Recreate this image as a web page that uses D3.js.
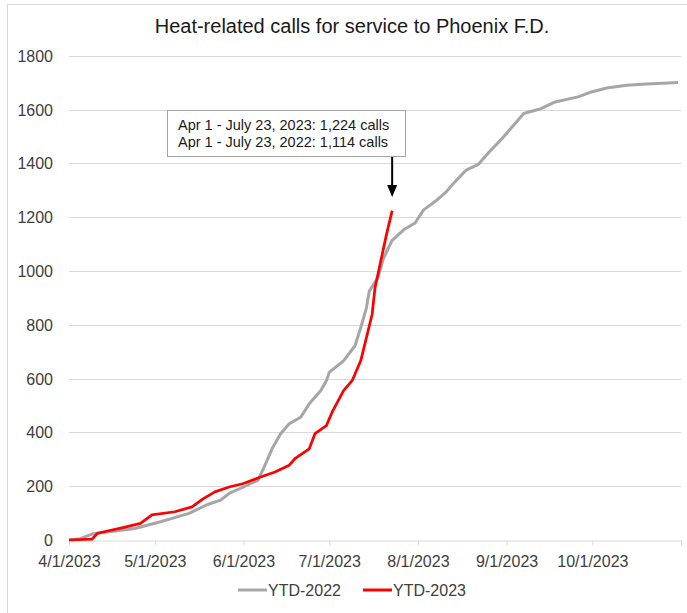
<!DOCTYPE html>
<html>
<head>
<meta charset="utf-8">
<script src="https://cdn.jsdelivr.net/npm/d3@7"></script>
<style>
  body { margin: 0; background: #fff; }
  text { font-family: "Liberation Sans", Arial, sans-serif; }
</style>
</head>
<body>
<svg id="chart" width="687" height="613"></svg>
<script>
// values
const dates2022 = ["4/1","4/5","4/9","4/15","4/24","5/3","5/13","5/19","5/24","5/27","6/1","6/6","6/8","6/11","6/14","6/17","6/21","6/24","6/28","6/30","7/1","7/6","7/10","7/12","7/14","7/15","7/18","7/20","7/23","7/27","7/31","8/3","8/7","8/11","8/14","8/18","8/22","8/26","8/30","9/3","9/7","9/13","9/18","9/26","9/30","10/6","10/13","10/20","10/31"];
const calls2022 = [0,5,22,31,43,68,99,130,148,173,197,222,265,339,395,432,456,506,555,592,623,666,722,789,863,925,974,1048,1114,1153,1178,1227,1258,1295,1332,1376,1395,1443,1487,1536,1585,1603,1628,1647,1663,1680,1690,1695,1700];

const dates2023 = ["4/1","4/9","4/11","4/21","4/26","4/30","5/8","5/14","5/18","5/22","5/27","6/1","6/7","6/12","6/17","6/19","6/24","6/26","6/30","7/2","7/6","7/9","7/12","7/14","7/16","7/17","7/19","7/21","7/23"];
const calls2023 = [0,3,25,49,62,93,105,123,154,179,197,210,234,253,278,302,339,395,425,475,555,592,666,752,839,937,1036,1135,1224];

const monthTicks = ["4/1","5/1","6/1","7/1","8/1","9/1","10/1","11/1"];
const yTicks = [0,200,400,600,800,1000,1200,1400,1600,1800];
const seriesNames = ["YTD-2022", "YTD-2023"];
const noteLines = ["Apr 1 - July 23, 2023: 1,224 calls", "Apr 1 - July 23, 2022: 1,114 calls"];

const parse = d3.timeParse("%m/%d/%Y");
const toDate = s => parse(s + "/2023");

const svg = d3.select("#chart");

// chart frame (top/left edges visible)
svg.append("line").attr("x1", 7).attr("x2", 687).attr("y1", 4.5).attr("y2", 4.5)
  .attr("stroke", "#d9d9d9");
svg.append("line").attr("x1", 7.5).attr("x2", 7.5).attr("y1", 4).attr("y2", 613)
  .attr("stroke", "#d9d9d9");

const x = d3.scaleTime().domain([toDate("4/1"), toDate("11/1")]).range([69, 681]);
const y = d3.scaleLinear().domain([0, 1800]).range([540, 55.7]);

// gridlines
svg.append("g").selectAll("line")
  .data(yTicks.slice(1))
  .enter().append("line")
  .attr("x1", 69).attr("x2", 681)
  .attr("y1", d => Math.round(y(d)) + 0.5).attr("y2", d => Math.round(y(d)) + 0.5)
  .attr("stroke", "#d9d9d9").attr("stroke-width", 1);

// y axis labels
svg.append("g").selectAll("text")
  .data(yTicks)
  .enter().append("text")
  .attr("x", 53).attr("y", d => y(d) + 6)
  .attr("text-anchor", "end")
  .attr("font-size", 16).attr("fill", "#404040")
  .text(d => d);

// x axis
const xAxis = svg.append("g").attr("transform", "translate(0,540.5)")
  .call(d3.axisBottom(x)
    .tickValues(monthTicks.map(toDate))
    .tickSize(5)
    .tickFormat(d => d.getMonth() === 10 ? "" : d3.timeFormat("%-m/%-d/%Y")(d)));
xAxis.select(".domain").attr("stroke", "#d9d9d9");
xAxis.selectAll(".tick line").attr("stroke", "#d9d9d9");
xAxis.selectAll(".tick text")
  .attr("font-family", "Liberation Sans, Arial, sans-serif")
  .attr("font-size", 16).attr("fill", "#404040").attr("dy", 0).attr("y", 26);

const line = d3.line().x(d => x(d.date)).y(d => y(d.value));
const series2022 = dates2022.map((d, i) => ({ date: toDate(d), value: calls2022[i] }));
const series2023 = dates2023.map((d, i) => ({ date: toDate(d), value: calls2023[i] }));

svg.append("path").datum(series2022)
  .attr("d", line).attr("fill", "none")
  .attr("stroke", "#a6a6a6").attr("stroke-width", 3).attr("stroke-linejoin", "round");
svg.append("path").datum(series2023)
  .attr("d", line).attr("fill", "none")
  .attr("stroke", "#ff0000").attr("stroke-width", 2.75).attr("stroke-linejoin", "round");

// title
svg.append("text").attr("x", 352).attr("y", 33)
  .attr("text-anchor", "middle").attr("font-size", 20).attr("fill", "#1a1a1a")
  .text("Heat-related calls for service to Phoenix F.D.");

// annotation box + arrow
svg.append("rect").attr("x", 167.5).attr("y", 110.5).attr("width", 238).attr("height", 46)
  .attr("fill", "#fff").attr("stroke", "#a6a6a6").attr("stroke-width", 1);
svg.append("g").selectAll("text")
  .data(noteLines)
  .enter().append("text")
  .attr("x", 178).attr("y", (d, i) => 130 + i * 17)
  .attr("font-size", 14.5).attr("fill", "#1a1a1a")
  .text(d => d);

const ax = x(toDate("7/23"));
svg.append("line").attr("x1", ax).attr("x2", ax).attr("y1", 157).attr("y2", 186)
  .attr("stroke", "#000").attr("stroke-width", 2);
svg.append("path")
  .attr("d", `M${ax - 5},${185} L${ax + 5},${185} L${ax},${197} Z`)
  .attr("fill", "#000");

// legend
const legend = svg.append("g");
const legendItems = [
  { name: seriesNames[0], color: "#a6a6a6", x: 238 },
  { name: seriesNames[1], color: "#ff0000", x: 363 }
];
legendItems.forEach(it => {
  legend.append("line").attr("x1", it.x).attr("x2", it.x + 29).attr("y1", 590).attr("y2", 590)
    .attr("stroke", it.color).attr("stroke-width", 3);
  legend.append("text").attr("x", it.x + 30).attr("y", 596)
    .attr("font-size", 16).attr("fill", "#404040").text(it.name);
});
</script>
</body>
</html>
